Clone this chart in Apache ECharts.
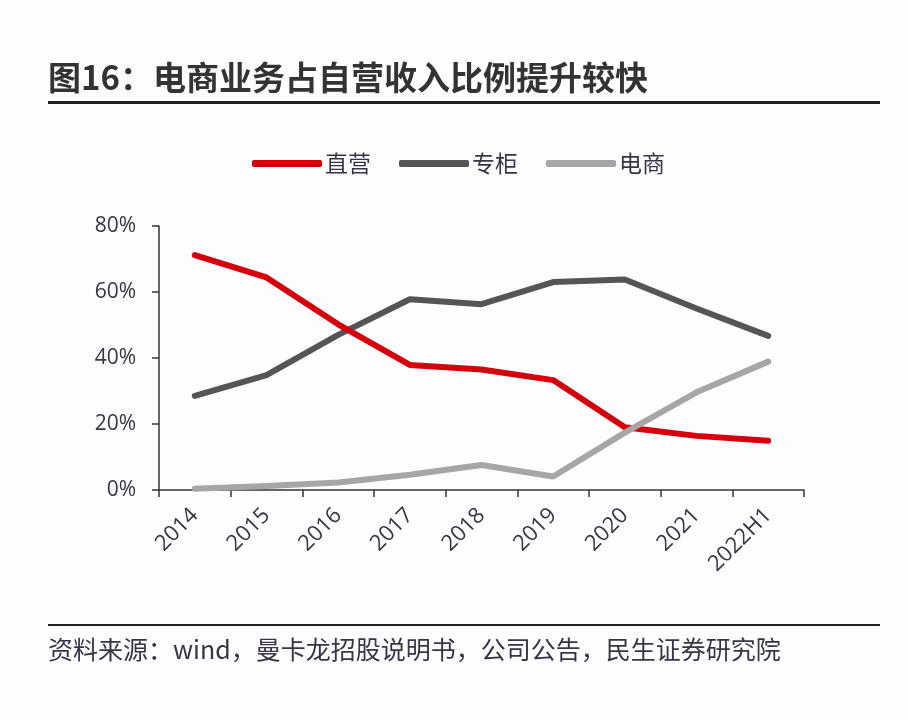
<!DOCTYPE html>
<html>
<head>
<meta charset="utf-8">
<script src="https://cdn.jsdelivr.net/npm/echarts@6/dist/echarts.min.js"></script>
<style>
html,body{margin:0;padding:0;background:#fdfdff;}
#main{width:908px;height:720px;}
</style>
</head>
<body>
<div id="main"></div>
<script>
var categories = ['2014','2015','2016','2017','2018','2019','2020','2021','2022H1'];
var zhiying = [71.2, 64.4, 50.2, 37.9, 36.5, 33.3, 19.0, 16.4, 14.9];
var zhuangui = [28.5, 34.8, 47.0, 57.8, 56.3, 63.0, 63.8, 55.0, 46.7];
var dianshang = [0.4, 1.2, 2.3, 4.6, 7.6, 4.1, 17.4, 29.6, 38.9];
var yTicks = [0, 20, 40, 60, 80];

var FONT = '"Noto Sans CJK SC","Noto Sans",sans-serif';
var NUMFONT = '"Open Sans","Noto Sans",sans-serif';
var TXT = '#3b3345';
var chart = echarts.init(document.getElementById('main'), null, {renderer:'canvas'});
var option = {
  backgroundColor: '#fdfdff',
  textStyle: {fontFamily: FONT},
  graphic: [
    {type:'text', left:48, top:61, style:{text:'图16：电商业务占自营收入比例提升较快', font:'bold 33px ' + FONT, fill:'#333333'}},
    {type:'rect', shape:{x:48, y:101, width:832, height:3}, style:{fill:'#222222'}},
    {type:'rect', shape:{x:48, y:624, width:832, height:2}, style:{fill:'#222222'}},
    {type:'text', left:48, top:637, style:{text:'资料来源：wind，曼卡龙招股说明书，公司公告，民生证券研究院', font:'25px ' + FONT, fill:TXT}}
  ],
  legend: {
    top: 147,
    left: 247,
    itemWidth: 70,
    itemHeight: 7,
    itemGap: 28,
    icon: 'roundRect',
    textStyle: {fontSize: 23, color: TXT, fontFamily: FONT, padding:[0,0,0,-2]},
    data: ['直营','专柜','电商']
  },
  grid: {left:159, right:104, top:226, bottom:230, containLabel:false},
  xAxis: {
    type: 'category',
    data: categories,
    boundaryGap: true,
    axisLine: {lineStyle:{color:'#333333', width:1.5}},
    axisTick: {show:true, length:7, alignWithLabel:false, lineStyle:{color:'#333333', width:1.5}},
    axisLabel: {rotate:45, fontSize:22, color:TXT, fontFamily:NUMFONT, margin:22, interval:0}
  },
  yAxis: {
    type: 'value',
    min: 0, max: 80, interval: 20,
    axisLine: {show:true, lineStyle:{color:'#333333', width:1.5}},
    axisTick: {show:true, length:7, lineStyle:{color:'#333333', width:1.5}},
    splitLine: {show:false},
    axisLabel: {fontSize:21, color:TXT, fontFamily:NUMFONT, margin:23,
      formatter: function(v){ return yTicks.indexOf(v) >= 0 ? v + '%' : ''; }}
  },
  series: [
    {name:'直营', type:'line', data:zhiying, symbol:'none', color:'#d4000c',
     lineStyle:{width:6, color:'#d4000c', cap:'round', join:'round'}, z:3},
    {name:'专柜', type:'line', data:zhuangui, symbol:'none', color:'#555557',
     lineStyle:{width:6, color:'#555557', cap:'round', join:'round'}, z:2},
    {name:'电商', type:'line', data:dianshang, symbol:'none', color:'#a6a6a8',
     lineStyle:{width:6, color:'#a6a6a8', cap:'round', join:'round'}, z:4}
  ],
  animation: false
};
chart.setOption(option);
</script>
</body>
</html>
